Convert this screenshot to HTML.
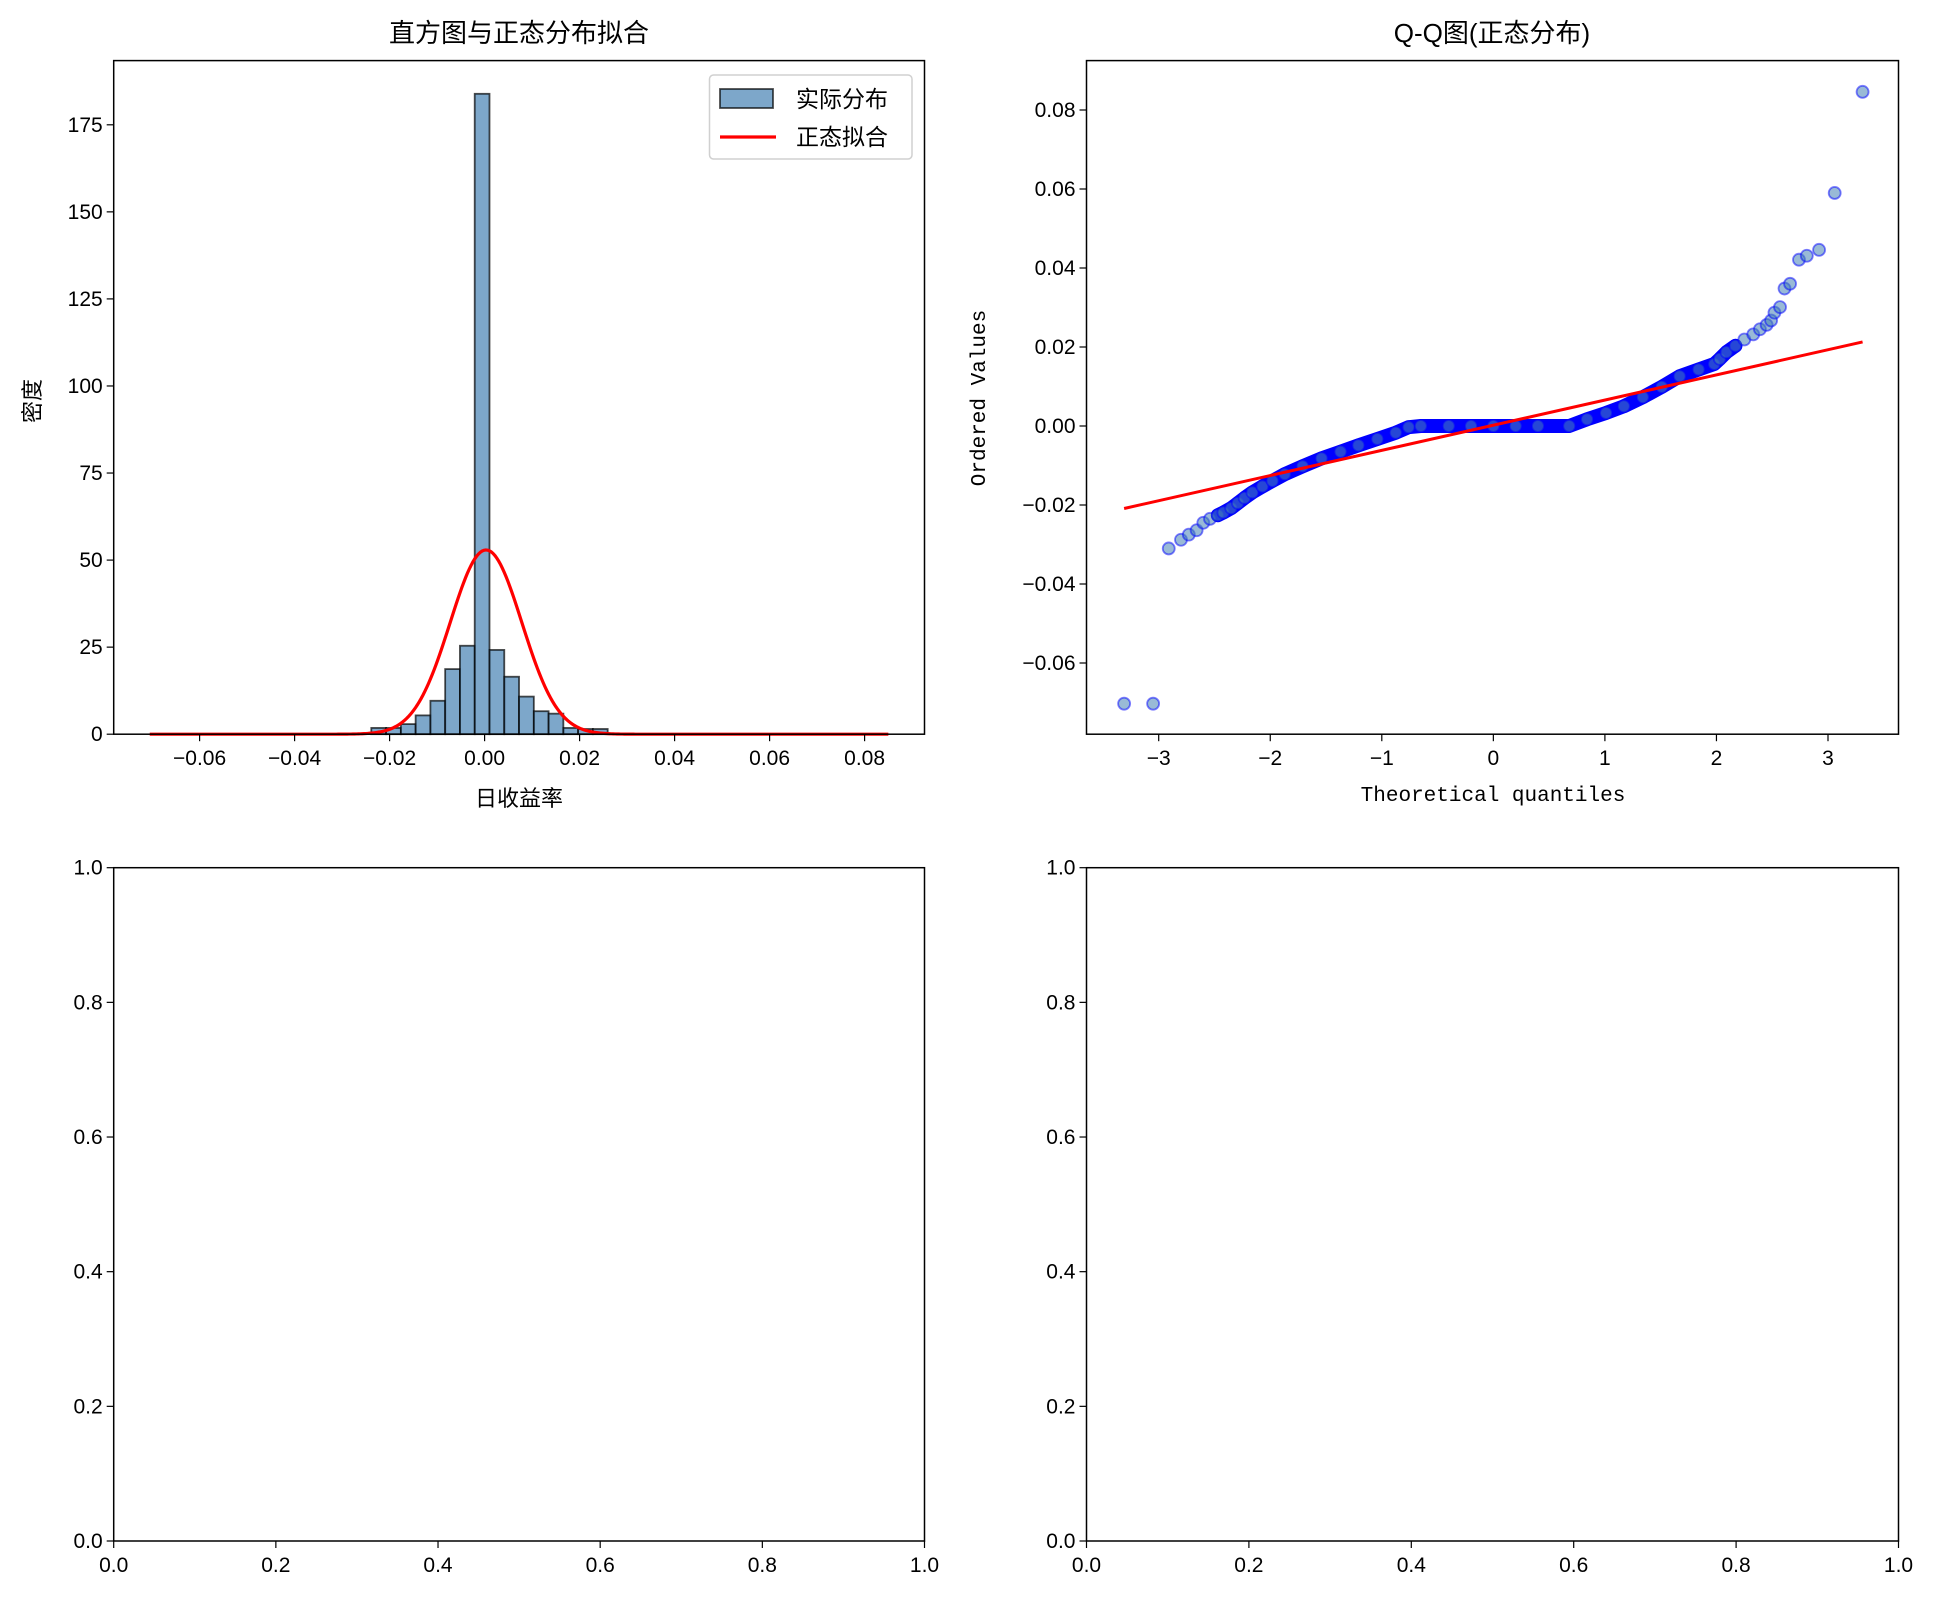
<!DOCTYPE html>
<html><head><meta charset="utf-8">
<style>
html,body{margin:0;padding:0;background:#fff;}
svg{display:block;font-family:"Liberation Sans","Noto Sans CJK SC",sans-serif;}
text{fill:#000;}
</style></head>
<body>
<svg id="fig" width="1938" height="1599" viewBox="0 0 1938 1599" xmlns="http://www.w3.org/2000/svg">
<rect width="1938" height="1599" fill="#fff"/>
<g id="ax1"></g>
<g id="ax2"></g>
<g id="ax3"></g>
<g id="ax4"></g>
</svg>
<script>
// ---------- Histogram data ----------
const histMin = -0.0705;
const histBinWidth = 0.00311;
const histDensity = [0,0,0,0,0,0,0,0,0,0,0,0,0,0,0,1.8,1.8,2.9,5.4,9.6,18.7,25.4,183.9,24.2,16.5,10.8,6.6,5.9,1.8,1.5,1.5,0,0,0,0,0,0,0,0,0,0,0,0,0,0,0,0,0,0,0];
const normMean = 0.0003;
const normStd = 0.00754;
const histXTicks = [-0.06,-0.04,-0.02,0.00,0.02,0.04,0.06,0.08];
const histXTickLabels = ["−0.06","−0.04","−0.02","0.00","0.02","0.04","0.06","0.08"];
const histYTicks = [0,25,50,75,100,125,150,175];
// ---------- Q-Q data ----------
const qqTheo = [-3.31,-3.05,-2.91,-2.80,-2.73,-2.66,-2.60,-2.54,-2.47,-2.42,-2.35,-2.29,-2.23,-2.16,-2.07,-1.98,-1.87,-1.71,-1.54,-1.37,-1.21,-1.04,-0.875,-0.76,-0.65,-0.4,-0.2,0,0.2,0.4,0.68,0.84,1.01,1.17,1.34,1.51,1.67,1.84,1.98,2.03,2.09,2.17,2.25,2.33,2.39,2.45,2.49,2.52,2.57,2.61,2.66,2.74,2.81,2.92,3.06,3.31];
const qqOrdered = [-0.0703,-0.0703,-0.031,-0.0288,-0.0275,-0.0264,-0.0245,-0.0235,-0.0226,-0.0219,-0.0208,-0.0195,-0.0182,-0.0168,-0.0153,-0.0139,-0.0122,-0.0102,-0.0082,-0.0065,-0.0049,-0.0033,-0.0017,-0.0003,0,0,0,0,0,0,0,0.0017,0.0033,0.005,0.0073,0.0099,0.0126,0.0143,0.0157,0.017,0.0187,0.0203,0.0219,0.0232,0.0245,0.0256,0.0267,0.0287,0.0301,0.0348,0.036,0.0421,0.0431,0.0446,0.059,0.0846];
const qqFitSlope = 0.00637;
const qqFitIntercept = 0.0002;
const qqXTicks = [-3,-2,-1,0,1,2,3];
const qqXTickLabels = ["−3","−2","−1","0","1","2","3"];
const qqYTicks = [-0.06,-0.04,-0.02,0.00,0.02,0.04,0.06,0.08];
const qqYTickLabels = ["−0.06","−0.04","−0.02","0.00","0.02","0.04","0.06","0.08"];
const emptyTicks = [0,0.2,0.4,0.6,0.8,1.0];
const emptyTickLabels = ["0.0","0.2","0.4","0.6","0.8","1.0"];

const NS = "http://www.w3.org/2000/svg";
function mk(parent, tag, attrs, txt){
  const e = document.createElementNS(NS, tag);
  for (const k in attrs) e.setAttribute(k, attrs[k]);
  if (txt !== undefined) e.textContent = txt;
  parent.appendChild(e);
  return e;
}
function linScale(d0,d1,r0,r1){ return v => r0 + (v-d0)/(d1-d0)*(r1-r0); }

function axesFrame(g, L, T, R, B, xs, xt, xl, ys, yt, yl, fs){
  for (let i=0;i<xt.length;i++){
    const x = xs(xt[i]);
    const t = mk(g,'line',{x1:x,y1:B,x2:x,y2:B+7,stroke:'#000','stroke-width':1.2});
    
    
    const l = mk(g,'text',{x:x,y:B+31,'text-anchor':'middle','font-size':fs},xl[i]);
    
    
  }
  for (let i=0;i<yt.length;i++){
    const y = ys(yt[i]);
    const t = mk(g,'line',{x1:L-7,y1:y,x2:L,y2:y,stroke:'#000','stroke-width':1.2});
    
    
    const l = mk(g,'text',{x:L-11,y:y+7,'text-anchor':'end','font-size':fs},yl[i]);
    
    
  }
}
function frame(g,L,T,R,B){
  const r = mk(g,'rect',{x:L,y:T,width:R-L,height:B-T,fill:'none',stroke:'#000','stroke-width':1.5});
  
  
}

// ---------- Panel 1: histogram ----------
(function(){
  const g = document.getElementById('ax1');
  const L=113.7,T=60.6,R=924.5,B=734.2;
  const xs = linScale(-0.06,0.08,199.6,864.6);
  const ys = linScale(0,175,B,124.8);
  for (let i=0;i<histDensity.length;i++){
    if (histDensity[i]<=0) continue;
    const x0 = xs(histMin+i*histBinWidth), x1 = xs(histMin+(i+1)*histBinWidth);
    const b = mk(g,'rect',{x:x0,y:ys(histDensity[i]),width:x1-x0,height:B-ys(histDensity[i]),fill:'rgba(70,130,180,0.7)',stroke:'rgba(0,0,0,0.7)','stroke-width':1.8});
    
    
  }
  const xmax = histMin + histDensity.length*histBinWidth;
  let d='';
  for (let k=0;k<=400;k++){
    const v = histMin + (xmax-histMin)*k/400;
    const p = Math.exp(-0.5*Math.pow((v-normMean)/normStd,2))/(normStd*Math.sqrt(2*Math.PI));
    d += (k?'L':'M')+xs(v).toFixed(2)+','+ys(p).toFixed(2);
  }
  const c = mk(g,'path',{d:d,fill:'none',stroke:'#ff0000','stroke-width':3.2});
  
  
  frame(g,L,T,R,B);
  axesFrame(g,L,T,R,B,xs,histXTicks,histXTickLabels,ys,histYTicks,histYTicks.map(String),21);
  const t = mk(g,'text',{x:519,y:42,'text-anchor':'middle','font-size':26},'直方图与正态分布拟合');
  
  
  const xl = mk(g,'text',{x:519,y:806,'text-anchor':'middle','font-size':22},'日收益率');
  
  
  const yl = mk(g,'text',{x:0,y:0,'text-anchor':'middle','font-size':22,transform:'translate(40,401) rotate(-90)'},'密度');
  
  
  const lg = mk(g,'g',{});
  
  
  mk(lg,'rect',{x:709.5,y:75,width:202.5,height:84,rx:4,fill:'rgba(255,255,255,0.8)',stroke:'#d0d0d0','stroke-width':1.5});
  const e1 = mk(lg,'rect',{x:720,y:89,width:53,height:19,fill:'rgba(70,130,180,0.7)',stroke:'rgba(0,0,0,0.7)','stroke-width':1.8});
  
  
  mk(lg,'text',{x:796,y:107,'font-size':23},'实际分布');
  const e2 = mk(lg,'line',{x1:720,y1:137,x2:776,y2:137,stroke:'#ff0000','stroke-width':3.2});
  
  
  mk(lg,'text',{x:796,y:145,'font-size':23},'正态拟合');
})();

// ---------- Panel 2: Q-Q ----------
(function(){
  const g = document.getElementById('ax2');
  const L=1086.5,T=60.6,R=1898.5,B=734.2;
  const xs = linScale(-3,3,1158.7,1828);
  const ys = linScale(0,0.08,426,110);
  let d='';
  for (let i=0;i<qqTheo.length;i++){
    if (qqTheo[i] < -2.5 || qqTheo[i] > 2.2) continue;
    d += (d?'L':'M')+xs(qqTheo[i]).toFixed(2)+','+ys(qqOrdered[i]).toFixed(2);
  }
  const band = mk(g,'path',{d:d,fill:'none',stroke:'#0000ff','stroke-width':14,'stroke-linejoin':'round','stroke-linecap':'round'});
  
  
  for (let i=0;i<qqTheo.length;i++){
    const p = mk(g,'circle',{cx:xs(qqTheo[i]),cy:ys(qqOrdered[i]),r:6,fill:'rgba(70,130,180,0.55)',stroke:'rgba(0,0,255,0.5)','stroke-width':1.8});
    
    
  }
  const q0=-3.31,q1=3.31;
  const fl = mk(g,'line',{x1:xs(q0),y1:ys(qqFitIntercept+qqFitSlope*q0),x2:xs(q1),y2:ys(qqFitIntercept+qqFitSlope*q1),stroke:'#ff0000','stroke-width':3});
  
  
  frame(g,L,T,R,B);
  axesFrame(g,L,T,R,B,xs,qqXTicks,qqXTickLabels,ys,qqYTicks,qqYTickLabels,21);
  const t = mk(g,'text',{x:1492,y:42,'text-anchor':'middle','font-size':26},'Q-Q图(正态分布)');
  
  
  const xl = mk(g,'text',{x:1493,y:801,'text-anchor':'middle','font-size':21,'font-family':'Liberation Mono, monospace'},'Theoretical quantiles');
  
  
  const yl = mk(g,'text',{x:0,y:0,'text-anchor':'middle','font-size':21,'font-family':'Liberation Mono, monospace',transform:'translate(985,398) rotate(-90)'},'Ordered Values');
  
  
})();

// ---------- Panels 3 & 4: empty ----------
function emptyPanel(id,L,R){
  const g = document.getElementById(id);
  const T=867.7,B=1541;
  const xs = linScale(0,1,L,R);
  const ys = linScale(0,1,B,T);
  frame(g,L,T,R,B);
  axesFrame(g,L,T,R,B,xs,emptyTicks,emptyTickLabels,ys,emptyTicks,emptyTickLabels,21);
}
emptyPanel('ax3',113.7,924.5);
emptyPanel('ax4',1086.5,1898.5);
</script>
</body></html>
